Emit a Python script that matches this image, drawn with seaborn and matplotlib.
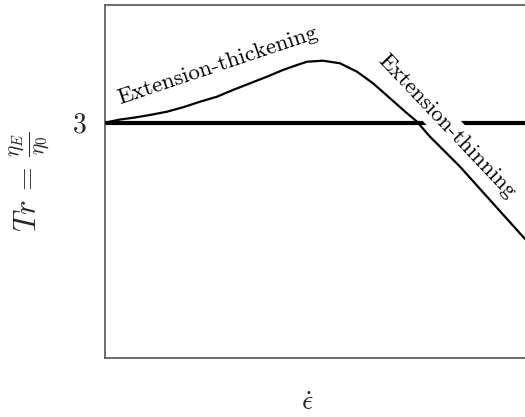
import matplotlib
matplotlib.use("Agg")
import matplotlib.pyplot as plt
import seaborn as sns
import pandas as pd

# Data (arbitrary units)
strain_rate = [0.0, 0.353, 0.659, 1.059, 1.459, 1.835, 2.235, 2.635, 3.012, 3.412, 3.812,
               4.188, 4.518, 4.753, 5.129, 5.529, 5.929, 6.306, 6.706, 7.106, 7.341,
               7.647, 8.353, 9.835, 10.0]
trouton = [3.0, 3.04, 3.062, 3.098, 3.14, 3.196, 3.267, 3.331, 3.417, 3.502, 3.586,
           3.672, 3.735, 3.777, 3.79, 3.757, 3.65, 3.502, 3.311, 3.12, 3.013,
           2.821, 2.439, 1.546, 1.453]
newtonian_x = [0.0, 10.0]
newtonian_y = [3.0, 3.0]
ytick_vals = [3]
ytick_labels = ["3"]

sns.set_theme(style="white")
plt.rcParams["font.family"] = ["cmr10", "DejaVu Serif"]
plt.rcParams["mathtext.fontset"] = "cm"
plt.rcParams["axes.formatter.use_mathtext"] = True

fig = plt.figure(figsize=(5.25, 4.17), dpi=100)
ax = fig.add_axes([105 / 525, (417 - 358) / 417, 425 / 525, (358 - 5) / 417])

curve = pd.DataFrame({"x": strain_rate, "y": trouton})
flat = pd.DataFrame({"x": newtonian_x, "y": newtonian_y})
sns.lineplot(data=flat, x="x", y="y", ax=ax, color="black", linewidth=3.0, zorder=2)
sns.lineplot(data=curve, x="x", y="y", ax=ax, color="black", linewidth=1.6, zorder=4,
             solid_joinstyle="round", solid_capstyle="round")

ax.set_xlim(0, 10)
ax.set_ylim(0, 4.5)
ax.set_xticks([])
ax.set_yticks(ytick_vals)
ax.set_yticklabels(ytick_labels, fontsize=20)
ax.tick_params(axis="y", length=0, pad=13)

for s in ax.spines.values():
    s.set_color("#555555")
    s.set_linewidth(1.2)

ax.set_ylabel(r"$Tr\,=\,\frac{\eta_E}{\eta_0}$", fontsize=22)
ax.yaxis.set_label_coords(-0.125, 0.5)
ax.set_xlabel(r"$\dot{\epsilon}$", fontsize=20)
ax.xaxis.set_label_coords(0.475, -0.09)

ax.text(2.66, 3.73, "Extension-thickening", rotation=18.5, rotation_mode="anchor",
        ha="center", va="center", fontsize=16.5, color="black", zorder=5)
ax.text(8.05, 2.95, "Extension-thinning", rotation=-46.5, rotation_mode="anchor",
        ha="center", va="center", fontsize=16.5, color="black", zorder=3,
        bbox=dict(facecolor="white", edgecolor="none", pad=3))

fig.savefig("out.png", dpi=100)
